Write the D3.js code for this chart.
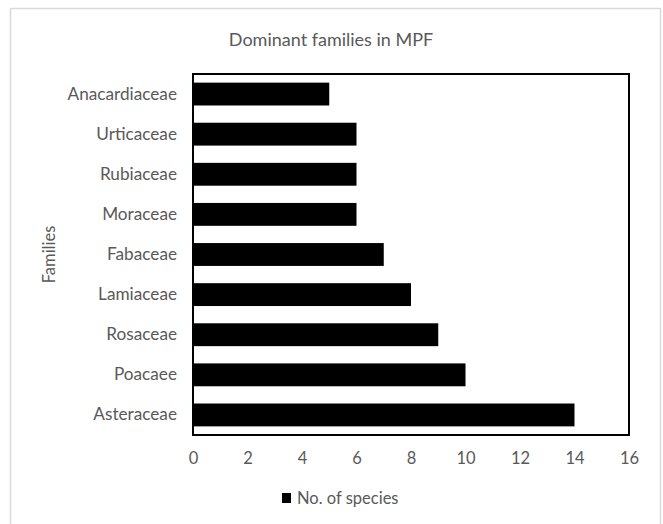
<!DOCTYPE html>
<html>
<head>
<meta charset="utf-8">
<script src="https://cdn.jsdelivr.net/npm/d3@7"></script>
<style>
  html, body { margin: 0; padding: 0; background: #fff; }
  svg { display: block; }
  text { font-family: Lato, "Open Sans", sans-serif; fill: #595959; }
</style>
</head>
<body>
<svg id="chart" width="663" height="524"></svg>
<script>
// Families, listed top to bottom
const families = ["Anacardiaceae", "Urticaceae", "Rubiaceae", "Moraceae", "Fabaceae",
                  "Lamiaceae", "Rosaceae", "Poacaee", "Asteraceae"];
// Number of species per family
const speciesCounts = [5, 6, 6, 6, 7, 8, 9, 10, 14];
// X-axis ticks
const xTicks = [0, 2, 4, 6, 8, 10, 12, 14, 16];

const svg = d3.select("#chart");
const plot = { left: 193, right: 629, top: 74, bottom: 435 };

// Outer chart frame (runs past the bottom edge)
svg.append("rect")
  .attr("x", 10.5).attr("y", 8.5)
  .attr("width", 650).attr("height", 530)
  .attr("fill", "#fff").attr("stroke", "#d9d9d9").attr("stroke-width", 1.5);

// Title
svg.append("text")
  .attr("x", 331).attr("y", 46)
  .attr("text-anchor", "middle")
  .attr("font-size", 18)
  .text("Dominant families in MPF");

const x = d3.scaleLinear().domain([0, 16]).range([plot.left, plot.right]);
const y = d3.scaleBand().domain(families).range([plot.top, plot.bottom])
  .paddingInner(0.43).paddingOuter(0.215);

// Bars
const data = families.map((f, i) => ({ family: f, value: speciesCounts[i] }));
svg.append("g").selectAll("rect")
  .data(data)
  .join("rect")
  .attr("x", x(0))
  .attr("y", d => y(d.family))
  .attr("width", d => x(d.value) - x(0))
  .attr("height", y.bandwidth())
  .attr("fill", "#000");

// Plot-area border
svg.append("rect")
  .attr("x", plot.left).attr("y", plot.top)
  .attr("width", plot.right - plot.left).attr("height", plot.bottom - plot.top)
  .attr("fill", "none").attr("stroke", "#000").attr("stroke-width", 2);

// X axis labels
const xAxis = d3.axisBottom(x).tickValues(xTicks).tickSize(0).tickPadding(17);
const gx = svg.append("g").attr("transform", `translate(0,${plot.bottom})`).call(xAxis);
gx.select(".domain").remove();
gx.selectAll("text").attr("font-size", 16.5).attr("font-family", "Lato, sans-serif").attr("fill", "#595959");

// Y axis labels
const yAxis = d3.axisLeft(y).tickSize(0).tickPadding(16);
const gy = svg.append("g").attr("transform", `translate(${plot.left},0)`).call(yAxis);
gy.select(".domain").remove();
gy.selectAll("text").attr("font-size", 17.2).attr("font-family", "Lato, sans-serif").attr("fill", "#595959");

// Y axis title
svg.append("text")
  .attr("transform", `translate(55,${(plot.top + plot.bottom) / 2}) rotate(-90)`)
  .attr("text-anchor", "middle")
  .attr("font-size", 16.5)
  .text("Families");

// Legend
const legend = svg.append("g").attr("transform", "translate(282,493)");
legend.append("rect").attr("width", 9).attr("height", 10).attr("fill", "#000");
legend.append("text").attr("x", 15).attr("y", 10.5).attr("font-size", 16.5).text("No. of species");
</script>
</body>
</html>
